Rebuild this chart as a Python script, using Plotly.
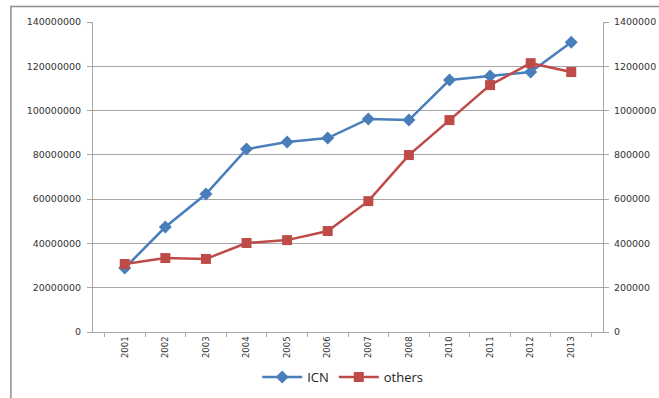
import plotly.graph_objects as go

# Yearly totals: ICN on the left axis, others on the right axis
years = ["2001", "2002", "2003", "2004", "2005", "2006",
         "2007", "2008", "2010", "2011", "2012", "2013"]
icn = [28900000, 47400000, 62300000, 82600000, 85800000, 87600000,
       96200000, 95700000, 113800000, 115600000, 117400000, 130900000]
others = [307000, 334000, 330000, 402000, 415000, 456000,
          591000, 799000, 957000, 1115000, 1214000, 1174000]

left_ticks = [0, 20000000, 40000000, 60000000, 80000000, 100000000, 120000000, 140000000]
right_ticks = [0, 200000, 400000, 600000, 800000, 1000000, 1200000, 1400000]

BLUE = "#4a7ebb"
RED = "#be4b48"
GRID = "#a6a6a6"

fig = go.Figure()
fig.add_trace(go.Scatter(
    x=years, y=icn, name="ICN", mode="lines+markers",
    line=dict(color=BLUE, width=2.5),
    marker=dict(symbol="diamond", size=10, color=BLUE),
    yaxis="y",
))
fig.add_trace(go.Scatter(
    x=years, y=others, name="others", mode="lines+markers",
    line=dict(color=RED, width=2.5),
    marker=dict(symbol="square", size=10, color=RED),
    yaxis="y2",
))

tick_font = dict(family="DejaVu Sans", size=9.5, color="#333333")

fig.update_layout(
    width=659, height=398,
    margin=dict(l=93, r=56, t=22, b=66, autoexpand=False),
    paper_bgcolor="white",
    plot_bgcolor="white",
    showlegend=True,
    legend=dict(
        orientation="h", xref="container", yref="container",
        x=0.52, xanchor="center", y=0.015, yanchor="bottom",
        itemwidth=40,
        font=dict(family="Open Sans", size=13, color="#222222"),
        bgcolor="rgba(0,0,0,0)",
    ),
    xaxis=dict(
        type="category", categoryorder="array", categoryarray=years,
        tickangle=-90, tickfont=dict(family="DejaVu Sans", size=8.5, color="#333333"),
        showgrid=False, showline=True, linecolor=GRID, linewidth=1,
        ticks="outside", tickson="boundaries", ticklen=4, tickcolor=GRID,
        zeroline=False, automargin=False,
    ),
    yaxis=dict(
        range=[0, 140000000], tickvals=left_ticks, tickformat="d",
        tickfont=tick_font, showgrid=True, gridcolor=GRID, gridwidth=1,
        showline=True, linecolor=GRID, ticks="outside", ticklen=5,
        tickcolor=GRID, zeroline=False, ticklabelstandoff=4, automargin=False,
    ),
    yaxis2=dict(
        range=[0, 1400000], tickvals=right_ticks, tickformat="d",
        tickfont=tick_font, overlaying="y", side="right",
        showgrid=False, showline=True, linecolor=GRID, ticks="outside",
        ticklen=5, tickcolor=GRID, zeroline=False, ticklabelstandoff=3,
        automargin=False,
    ),
    shapes=[dict(
        type="rect", xref="paper", yref="paper",
        x0=-0.161, x1=1.2, y0=-0.3, y1=1.05,
        line=dict(color="#8c8c8c", width=1.5), fillcolor="rgba(0,0,0,0)",
        layer="below",
    )],
)

fig.write_html("out.html")
